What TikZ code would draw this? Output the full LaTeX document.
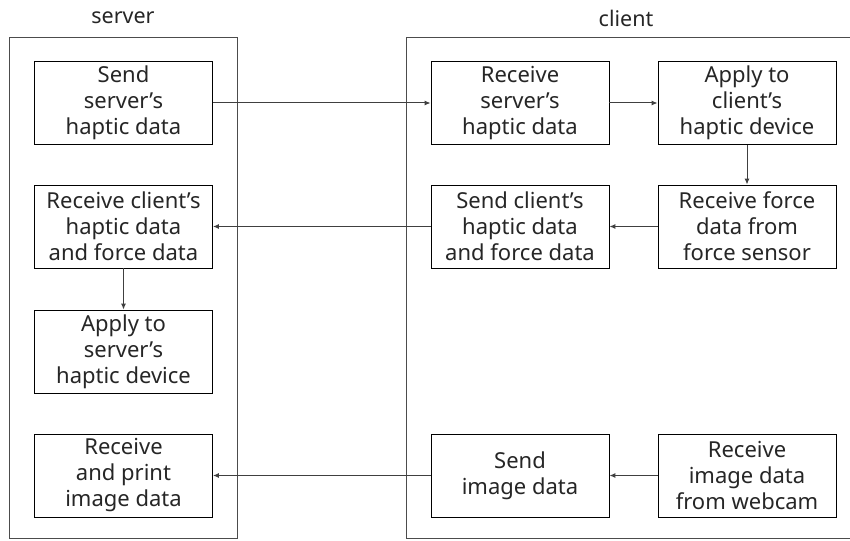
\documentclass[tikz,border=0pt]{standalone}
\usepackage{fontspec}
\setmainfont{Noto Sans}
\usetikzlibrary{arrows.meta}
\tikzset{
  stepbox/.style={draw=black, line width=0.9pt, minimum width=178pt, minimum height=83pt,
    inner sep=0pt, align=center, font=\fontsize{22}{26}\selectfont, text=black!85},
  panel/.style={draw=black!70, line width=0.9pt},
  title/.style={font=\fontsize{21.5}{24}\selectfont, text=black!85},
  flow/.style={draw=black!75, line width=1pt, -{Latex[length=6pt,width=5pt]}}
}
\begin{document}
\begin{tikzpicture}[x=1pt,y=-1pt]
\useasboundingbox (0,0) rectangle (850,540);
\fill[white] (0,0) rectangle (850,540);

% server and client panels
\draw[panel] (9,37) rectangle (237,538.5);
\draw[panel] (851,37) -- (406,37) -- (406,538.5) -- (851,538.5);
\node[title] (ts) at (123,18) {server};
\node[title] (tc) at (626,18) {client};

% server steps
\node[stepbox] (s1) at (123.5,103)   {Send\\server’s\\haptic data};
\node[stepbox] (s2) at (123.5,226.5) {Receive client’s\\haptic data\\and force data};
\node[stepbox] (s3) at (123.5,351.5) {Apply to\\server’s\\haptic device};
\node[stepbox] (s4) at (123.5,475.5) {Receive\\and print\\image data};

% client steps
\node[stepbox] (c1) at (520,103)   {Receive\\server’s\\haptic data};
\node[stepbox] (c2) at (747,103)   {Apply to\\client’s\\haptic device};
\node[stepbox] (c3) at (747,226.5) {Receive force\\data from\\force sensor};
\node[stepbox] (c4) at (520,226.5) {Send client’s\\haptic data\\and force data};
\node[stepbox] (c5) at (520,475.5) {Send\\image data};
\node[stepbox] (c6) at (747,475.5) {Receive\\image data\\from webcam};

% data flow
\draw[flow] (s1) -- (c1);
\draw[flow] (c1) -- (c2);
\draw[flow] (c2) -- (c3);
\draw[flow] (c3) -- (c4);
\draw[flow] (c4) -- (s2);
\draw[flow] (s2) -- (s3);
\draw[flow] (c6) -- (c5);
\draw[flow] (c5) -- (s4);
\end{tikzpicture}
\end{document}
